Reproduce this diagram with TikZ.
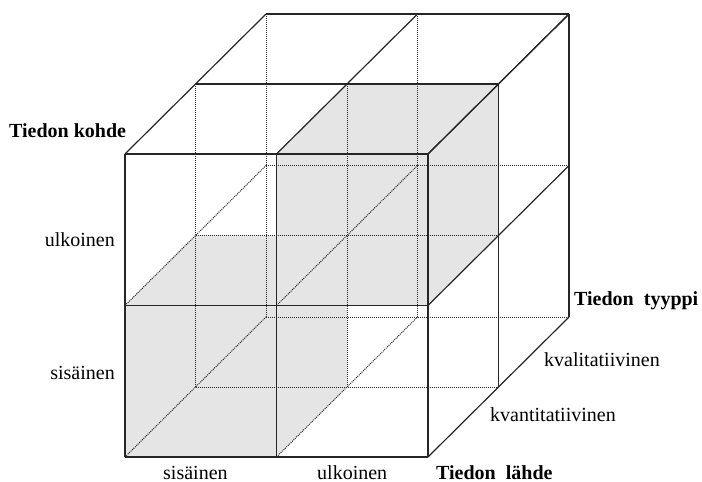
\documentclass[tikz,border=0pt]{standalone}
\usepackage{fontspec}
\setmainfont{Liberation Serif}
\begin{document}
\begin{tikzpicture}[x=1pt,y=-1pt,
  edge/.style={line width=1.2pt, draw=black!85},
  hidden/.style={line width=1pt, draw=black!85, dash pattern=on 1pt off 1pt},
  shade/.style={fill=gray!20, draw=none},
  lbl/.style={font=\fontsize{20}{24}\selectfont, inner sep=0pt},
  axis/.style={font=\fontsize{20}{24}\selectfont\bfseries, inner sep=0pt}]
\useasboundingbox (0,0) rectangle (702,482);

% lattice points p-i-j-d: column i, row j (top = 0), depth d (front = 0)
\foreach \i in {0,1,2}{\foreach \j in {0,1,2}{\foreach \d in {0,1,2}{
  \coordinate (p-\i-\j-\d) at ({125+151.5*\i+70.5*\d},{154+151.5*\j-70*\d});
}}}

% shaded block: front row, lower left
\fill[shade] (p-0-1-0) -- (p-1-1-0) -- (p-1-2-0) -- (p-0-2-0) -- cycle;
\fill[shade] (p-0-1-0) -- (p-0-1-1) -- (p-1-1-1) -- (p-1-1-0) -- cycle;
\fill[shade] (p-1-1-0) -- (p-1-1-1) -- (p-1-2-1) -- (p-1-2-0) -- cycle;
% shaded block: front row, upper right
\fill[shade] (p-1-0-0) -- (p-2-0-0) -- (p-2-1-0) -- (p-1-1-0) -- cycle;
\fill[shade] (p-1-0-0) -- (p-1-0-1) -- (p-2-0-1) -- (p-2-0-0) -- cycle;
\fill[shade] (p-2-0-0) -- (p-2-0-1) -- (p-2-1-1) -- (p-2-1-0) -- cycle;

% hidden grid lines
\foreach \d in {1,2}{
  \foreach \j in {1,2}{\draw[hidden] (p-0-\j-\d) -- (p-2-\j-\d);}
  \foreach \i in {0,1}{\draw[hidden] (p-\i-0-\d) -- (p-\i-2-\d);}
}
\foreach \i in {0,1}{\foreach \j in {1,2}{\draw[hidden] (p-\i-\j-0) -- (p-\i-\j-2);}}

% visible edges: front face
\foreach \j in {0,1,2}{\draw[edge] (p-0-\j-0) -- (p-2-\j-0);}
\foreach \i in {0,1,2}{\draw[edge] (p-\i-0-0) -- (p-\i-2-0);}
% visible edges: top face
\foreach \d in {1,2}{\draw[edge] (p-0-0-\d) -- (p-2-0-\d);}
\foreach \i in {0,1,2}{\draw[edge] (p-\i-0-0) -- (p-\i-0-2);}
% visible edges: right face
\foreach \d in {1,2}{\draw[edge] (p-2-0-\d) -- (p-2-2-\d);}
\foreach \j in {0,1,2}{\draw[edge] (p-2-\j-0) -- (p-2-\j-2);}

% axis titles
\node[axis, anchor=base west] (kohde) at (9,137) {Tiedon kohde};
\node[axis, anchor=base west] (lahde) at (436,479) {Tiedon\hspace{0.5em}lähde};
\node[axis, anchor=base west] (tyyppi) at (574,305) {Tiedon\hspace{0.5em}tyyppi};

% category labels
\node[lbl, anchor=base east] (k-ulk) at (115,246) {ulkoinen};
\node[lbl, anchor=base east] (k-sis) at (115,379) {sisäinen};
\node[lbl, anchor=base west] (l-sis) at (163,479) {sisäinen};
\node[lbl, anchor=base west] (l-ulk) at (317,479) {ulkoinen};
\node[lbl, anchor=base west] (t-kval) at (544,366) {kvalitatiivinen};
\node[lbl, anchor=base west] (t-kvan) at (490,421) {kvantitatiivinen};
\end{tikzpicture}
\end{document}
